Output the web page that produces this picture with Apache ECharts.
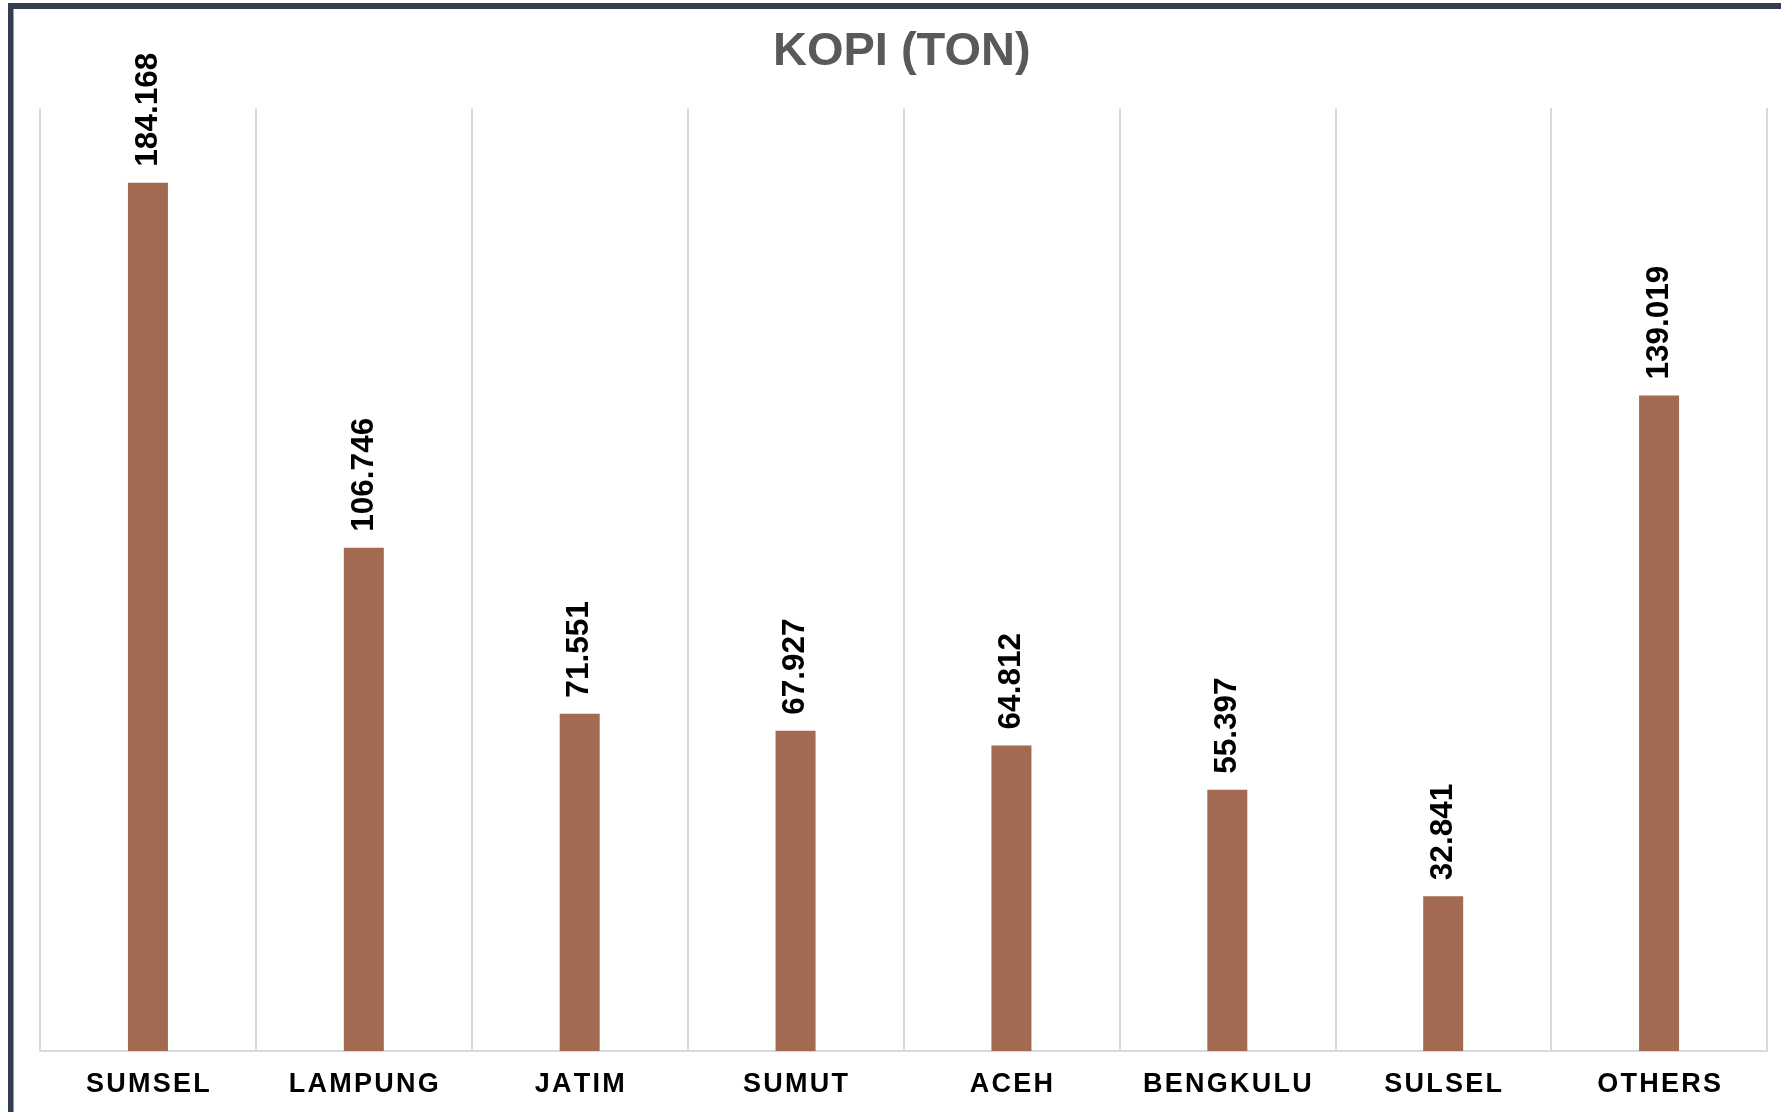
<!DOCTYPE html>
<html>
<head>
<meta charset="utf-8">
<title>KOPI (TON)</title>
<script src="https://cdn.jsdelivr.net/npm/echarts@6/dist/echarts.min.js"></script>
<style>
  html, body { margin: 0; padding: 0; background: #ffffff; }
  #chart { width: 1781px; height: 1112px; }
</style>
</head>
<body>
<div id="chart"></div>
<script>
// Coffee production by province (tons)
const provinces = ['SUMSEL', 'LAMPUNG', 'JATIM', 'SUMUT', 'ACEH', 'BENGKULU', 'SULSEL', 'OTHERS'];
const production = [184.168, 106.746, 71.551, 67.927, 64.812, 55.397, 32.841, 139.019];
const chartTitle = 'KOPI (TON)';

// spread letters of category labels slightly apart
const spaced = s => s.split('').join('\u200A');

const chart = echarts.init(document.getElementById('chart'), null, { renderer: 'canvas' });

chart.setOption({
  backgroundColor: '#ffffff',
  animation: false,
  title: {
    text: chartTitle,
    left: 768,
    top: 24,
    textStyle: {
      fontFamily: 'Liberation Sans, Arial, sans-serif',
      fontSize: 47,
      fontWeight: 'bold',
      color: '#595959'
    }
  },
  graphic: [
    { type: 'rect', shape: { x: 8, y: 3, width: 1781, height: 6 }, style: { fill: '#323E4F' }, z: 100 },
    { type: 'rect', shape: { x: 8, y: 3, width: 5.5, height: 1112 }, style: { fill: '#323E4F' }, z: 100 }
  ],
  grid: { left: 40, right: 14, top: 108, bottom: 61 },
  xAxis: {
    type: 'category',
    data: provinces,
    boundaryGap: true,
    axisLine: { show: true, lineStyle: { color: '#d9d9d9', width: 2 } },
    axisTick: { show: false },
    splitLine: { show: true, lineStyle: { color: '#d9d9d9', width: 2 } },
    axisLabel: {
      margin: 20,
      interval: 0,
      fontFamily: 'Liberation Sans, Arial, sans-serif',
      fontSize: 27,
      fontWeight: 'bold',
      color: '#000000',
      formatter: v => spaced(v)
    }
  },
  yAxis: {
    type: 'value',
    min: 0,
    max: 200,
    show: false,
    splitLine: { show: false }
  },
  series: [{
    type: 'bar',
    data: production,
    barWidth: 40,
    itemStyle: { color: '#A26A51' },
    label: {
      show: true,
      position: 'top',
      distance: 16,
      rotate: 90,
      align: 'left',
      verticalAlign: 'middle',
      fontFamily: 'Liberation Sans, Arial, sans-serif',
      fontSize: 31.5,
      fontWeight: 'bold',
      color: '#000000',
      formatter: p => p.value.toFixed(3)
    }
  }]
});
</script>
</body>
</html>
